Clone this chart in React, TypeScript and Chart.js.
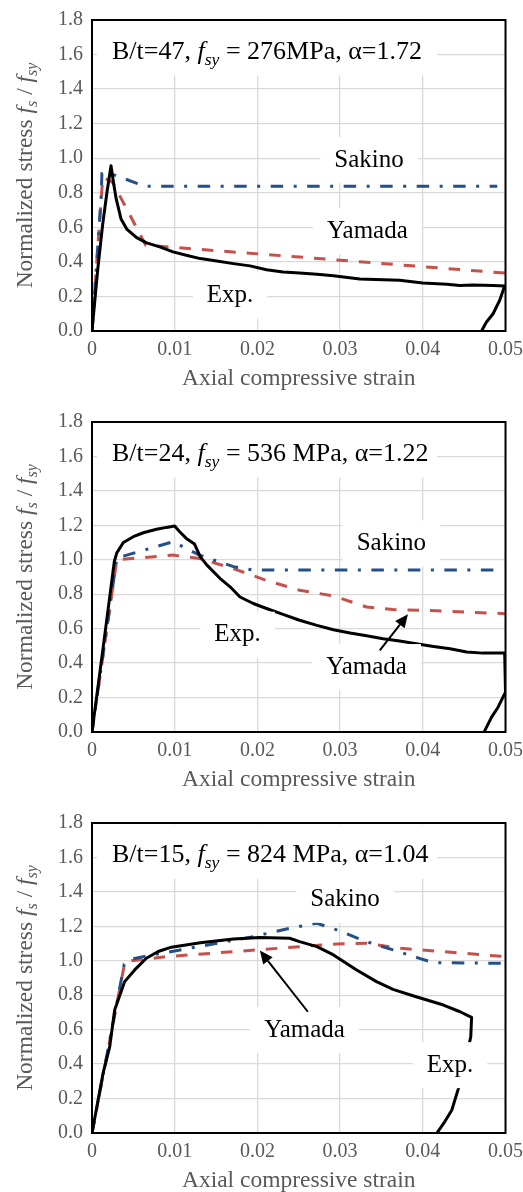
import React, { useEffect, useRef } from 'react';
import { Chart, registerables } from 'chart.js';
Chart.register(...registerables);

const SERIF = '"Liberation Serif", "Times New Roman", Times, serif';
const GRAY = '#595959';

// ---- axis ticks ----
const xTickValues = [0, 0.01, 0.02, 0.03, 0.04, 0.05];
const xTickLabels = ['0', '0.01', '0.02', '0.03', '0.04', '0.05'];
const yTickValues = [0, 0.2, 0.4, 0.6, 0.8, 1.0, 1.2, 1.4, 1.6, 1.8];
const yTickLabels = ['0.0', '0.2', '0.4', '0.6', '0.8', '1.0', '1.2', '1.4', '1.6', '1.8'];

// ---- panel 1: B/t=47 ----
const exp1Strain = [0, 0.0007, 0.0013, 0.0018, 0.0023, 0.0026, 0.0029, 0.0035, 0.0042, 0.0054, 0.0066, 0.0082, 0.0098, 0.0114, 0.0131, 0.0151, 0.0171, 0.0191, 0.0211, 0.0231, 0.0251, 0.0272, 0.0292, 0.0304, 0.0324, 0.0352, 0.0372, 0.04, 0.0429, 0.0445, 0.0461, 0.0485, 0.0499, 0.0493, 0.0485, 0.0477, 0.0471];
const exp1Stress = [0, 0.36, 0.62, 0.8, 0.956, 0.86, 0.77, 0.65, 0.59, 0.54, 0.51, 0.487, 0.458, 0.438, 0.419, 0.405, 0.39, 0.377, 0.355, 0.342, 0.336, 0.328, 0.32, 0.313, 0.301, 0.297, 0.294, 0.278, 0.27, 0.263, 0.266, 0.263, 0.261, 0.178, 0.1, 0.052, 0];
const sak1Strain = [0, 0.0011, 0.0012, 0.0023, 0.0064, 0.049];
const sak1Stress = [0, 0.77, 0.91, 0.91, 0.838, 0.838];
const yam1Strain = [0, 0.0013, 0.0025, 0.0065, 0.05];
const yam1Stress = [0, 0.89, 0.86, 0.497, 0.335];

// ---- panel 2: B/t=24 ----
const exp2Strain = [0, 0.0014, 0.0027, 0.003, 0.00379, 0.005, 0.0062, 0.0078, 0.009, 0.01, 0.0106, 0.0114, 0.0124, 0.0131, 0.0139, 0.0155, 0.0167, 0.0179, 0.0195, 0.0211, 0.0231, 0.0251, 0.0272, 0.0292, 0.0312, 0.0332, 0.0352, 0.0372, 0.0392, 0.0413, 0.0433, 0.0453, 0.0473, 0.0499, 0.05, 0.0491, 0.0483, 0.0475];
const exp2Stress = [0, 0.51, 0.99, 1.04, 1.1, 1.134, 1.157, 1.177, 1.188, 1.196, 1.163, 1.124, 1.091, 1.017, 0.969, 0.891, 0.843, 0.784, 0.746, 0.717, 0.683, 0.649, 0.619, 0.594, 0.575, 0.559, 0.542, 0.528, 0.513, 0.497, 0.483, 0.464, 0.458, 0.458, 0.231, 0.144, 0.085, 0.008];
const sak2Strain = [0, 0.003, 0.0098, 0.013, 0.0171, 0.0195, 0.049];
const sak2Stress = [0, 1.01, 1.105, 1.027, 0.96, 0.94, 0.94];
const yam2Strain = [0, 0.003, 0.0098, 0.013, 0.017, 0.0211, 0.0251, 0.0292, 0.0332, 0.0364, 0.04, 0.05];
const yam2Stress = [0, 1.0, 1.027, 1.008, 0.95, 0.88, 0.823, 0.79, 0.726, 0.711, 0.707, 0.687];

// ---- panel 3: B/t=15 ----
const exp3Strain = [0, 0.00133, 0.00214, 0.00274, 0.00395, 0.00516, 0.00657, 0.008, 0.0096, 0.0131, 0.0171, 0.0203, 0.0239, 0.0251, 0.0272, 0.0292, 0.032, 0.0344, 0.0364, 0.0388, 0.0405, 0.0425, 0.0445, 0.0459, 0.0458, 0.0451, 0.0443, 0.0435, 0.0425, 0.0417];
const exp3Stress = [0, 0.346, 0.5, 0.714, 0.879, 0.947, 1.015, 1.054, 1.079, 1.105, 1.127, 1.135, 1.131, 1.111, 1.082, 1.034, 0.946, 0.879, 0.834, 0.797, 0.772, 0.743, 0.704, 0.671, 0.559, 0.403, 0.258, 0.132, 0.054, 0];
const sak3Strain = [0, 0.0039, 0.0048, 0.0062, 0.0195, 0.0239, 0.0272, 0.0296, 0.0332, 0.0364, 0.0396, 0.0413, 0.0497];
const sak3Stress = [0, 0.98, 1.01, 1.024, 1.14, 1.189, 1.218, 1.179, 1.111, 1.063, 1.014, 0.989, 0.985];
const yam3Strain = [0, 0.00395, 0.0048, 0.009, 0.0199, 0.0296, 0.0332, 0.0372, 0.05];
const yam3Stress = [0, 0.986, 1.0, 1.024, 1.063, 1.098, 1.102, 1.073, 1.024];

type Seg = { t: string; it?: boolean; sub?: boolean };
type Label = { text: string; x: number; y: number };
type Panel = {
  offset: number;
  height: number;
  plotTop: number;
  plotBottom: number;
  title: Seg[];
  exp: [number[], number[]];
  sakino: [number[], number[]];
  yamada: [number[], number[]];
  labels: Label[];
  arrow?: [number, number, number, number];
};

const yTitle: Seg[] = [
  { t: 'Normalized stress ' },
  { t: 'f', it: true },
  { t: 's', it: true, sub: true },
  { t: ' / ' },
  { t: 'f', it: true },
  { t: 'sy', it: true, sub: true },
];
const xTitle = 'Axial compressive strain';

const panels: Panel[] = [
  {
    offset: 0, height: 402, plotTop: 20, plotBottom: 331,
    title: [{ t: 'B/t=47, ' }, { t: 'f', it: true }, { t: 'sy', it: true, sub: true }, { t: ' = 276MPa, α=1.72' }],
    exp: [exp1Strain, exp1Stress], sakino: [sak1Strain, sak1Stress], yamada: [yam1Strain, yam1Stress],
    labels: [
      { text: 'Sakino', x: 0.0335, y: 0.989 },
      { text: 'Yamada', x: 0.0333, y: 0.577 },
      { text: 'Exp.', x: 0.0167, y: 0.207 },
    ],
  },
  {
    offset: 402, height: 401, plotTop: 20, plotBottom: 330,
    title: [{ t: 'B/t=24, ' }, { t: 'f', it: true }, { t: 'sy', it: true, sub: true }, { t: ' = 536 MPa, α=1.22' }],
    exp: [exp2Strain, exp2Stress], sakino: [sak2Strain, sak2Stress], yamada: [yam2Strain, yam2Stress],
    labels: [
      { text: 'Sakino', x: 0.0362, y: 1.095 },
      { text: 'Yamada', x: 0.0332, y: 0.377 },
      { text: 'Exp.', x: 0.0176, y: 0.565 },
    ],
    arrow: [0.0348, 0.474, 0.0382, 0.683],
  },
  {
    offset: 803, height: 389, plotTop: 20, plotBottom: 330,
    title: [{ t: 'B/t=15, ' }, { t: 'f', it: true }, { t: 'sy', it: true, sub: true }, { t: ' = 824 MPa, α=1.04' }],
    exp: [exp3Strain, exp3Stress], sakino: [sak3Strain, sak3Stress], yamada: [yam3Strain, yam3Stress],
    labels: [
      { text: 'Sakino', x: 0.0306, y: 1.354 },
      { text: 'Yamada', x: 0.0257, y: 0.597 },
      { text: 'Exp.', x: 0.0433, y: 0.394 },
    ],
    arrow: [0.0261, 0.704, 0.0203, 1.059],
  },
];

function segFont(s: Seg, size: number) {
  const sz = s.sub ? size * 0.68 : size;
  return `${s.it ? 'italic ' : ''}${sz}px ${SERIF}`;
}
function richWidth(ctx: CanvasRenderingContext2D, segs: Seg[], size: number) {
  let w = 0;
  for (const s of segs) { ctx.font = segFont(s, size); w += ctx.measureText(s.t).width; }
  return w;
}
function drawRich(ctx: CanvasRenderingContext2D, segs: Seg[], x: number, y: number, size: number, color: string) {
  let cx = x;
  ctx.fillStyle = color;
  ctx.textAlign = 'left';
  ctx.textBaseline = 'alphabetic';
  for (const s of segs) {
    ctx.font = segFont(s, size);
    ctx.fillText(s.t, cx, s.sub ? y + size * 0.24 : y);
    cx += ctx.measureText(s.t).width;
  }
}

function zip(xs: number[], ys: number[]) {
  return xs.map((x, i) => ({ x, y: ys[i] }));
}

function overlay(p: Panel) {
  return {
    id: 'overlay',
    afterDraw(chart: any) {
      const ctx: CanvasRenderingContext2D = chart.ctx;
      const { left, right, top, bottom } = chart.chartArea;
      const xs = chart.scales.x;
      const ys = chart.scales.y;
      ctx.save();
      // title box
      ctx.fillStyle = '#fff';
      ctx.fillRect(left + 5, top + 1.5, 340, 54);
      drawRich(ctx, p.title, left + 20, top + 38.5, 26, '#000');
      // labels
      for (const lab of p.labels) {
        ctx.font = `25px ${SERIF}`;
        const w = ctx.measureText(lab.text).width;
        const cx = xs.getPixelForValue(lab.x);
        const cy = ys.getPixelForValue(lab.y);
        ctx.fillStyle = '#fff';
        ctx.fillRect(cx - w / 2 - 14, cy - 23, w + 28, 46);
        ctx.fillStyle = '#000';
        ctx.textAlign = 'center';
        ctx.textBaseline = 'middle';
        ctx.fillText(lab.text, cx, cy);
      }
      // arrow
      if (p.arrow) {
        const [ax1, ay1, ax2, ay2] = p.arrow;
        const x1 = xs.getPixelForValue(ax1), y1 = ys.getPixelForValue(ay1);
        const x2 = xs.getPixelForValue(ax2), y2 = ys.getPixelForValue(ay2);
        const ang = Math.atan2(y2 - y1, x2 - x1);
        const hl = 13, hw = 6;
        const bx = x2 - hl * Math.cos(ang), by = y2 - hl * Math.sin(ang);
        ctx.strokeStyle = '#000';
        ctx.lineWidth = 2;
        ctx.beginPath();
        ctx.moveTo(x1, y1);
        ctx.lineTo(bx, by);
        ctx.stroke();
        ctx.fillStyle = '#000';
        ctx.beginPath();
        ctx.moveTo(x2, y2);
        ctx.lineTo(bx + hw * Math.sin(ang), by - hw * Math.cos(ang));
        ctx.lineTo(bx - hw * Math.sin(ang), by + hw * Math.cos(ang));
        ctx.closePath();
        ctx.fill();
      }
      // frame
      ctx.strokeStyle = '#000';
      ctx.lineWidth = 2;
      ctx.strokeRect(left, top, right - left, bottom - top);
      // x title
      ctx.font = `23.5px ${SERIF}`;
      ctx.fillStyle = GRAY;
      ctx.textAlign = 'center';
      ctx.textBaseline = 'alphabetic';
      ctx.fillText(xTitle, (left + right) / 2, bottom + 54);
      // y title
      const tw = richWidth(ctx, yTitle, 23.5);
      ctx.translate(31.5, (top + bottom) / 2);
      ctx.rotate(-Math.PI / 2);
      drawRich(ctx, yTitle, -tw / 2, 0, 23.5, GRAY);
      ctx.restore();
    },
  };
}

function PanelChart({ p }: { p: Panel }) {
  const ref = useRef<HTMLCanvasElement>(null);
  useEffect(() => {
    const canvas = ref.current!;
    const chart = new Chart(canvas, {
      type: 'line',
      data: {
        datasets: [
          {
            label: 'Exp.', data: zip(p.exp[0], p.exp[1]),
            borderColor: '#000', borderWidth: 3, pointRadius: 0, tension: 0,
            borderJoinStyle: 'round', borderCapStyle: 'round',
          },
          {
            label: 'Sakino', data: zip(p.sakino[0], p.sakino[1]),
            borderColor: '#234f8a', borderWidth: 3, pointRadius: 0, tension: 0,
            borderDash: [12.5, 10.5, 3, 10.5], borderCapStyle: 'butt',
          },
          {
            label: 'Yamada', data: zip(p.yamada[0], p.yamada[1]),
            borderColor: '#c5504c', borderWidth: 3, pointRadius: 0, tension: 0,
            borderDash: [11.5, 11], borderCapStyle: 'butt',
          },
        ],
      } as any,
      options: {
        animation: false,
        responsive: false,
        devicePixelRatio: 1,
        layout: { padding: { top: p.plotTop, right: 17.5, left: 0, bottom: 0 } },
        plugins: { legend: { display: false }, tooltip: { enabled: false } },
        scales: {
          x: {
            type: 'linear', min: 0, max: 0.05, position: 'bottom',
            afterBuildTicks: (s: any) => { s.ticks = xTickValues.map((v) => ({ value: v })); },
            afterFit: (s: any) => { s.height = p.height - p.plotBottom; s.paddingLeft = 0; s.paddingRight = 0; },
            grid: { color: '#d9d9d9', lineWidth: 1.3, drawTicks: false },
            border: { display: false },
            ticks: {
              padding: 7, color: GRAY, font: { family: SERIF, size: 20 }, maxRotation: 0, autoSkip: false,
              callback: (_v: any, i: number) => xTickLabels[i],
            },
          },
          y: {
            type: 'linear', min: 0, max: 1.8,
            afterBuildTicks: (s: any) => { s.ticks = yTickValues.map((v) => ({ value: v })); },
            afterFit: (s: any) => { s.width = 92; s.paddingTop = 0; s.paddingBottom = 0; },
            grid: { color: '#d9d9d9', lineWidth: 1.3, drawTicks: false },
            border: { display: false },
            ticks: {
              padding: 9, color: GRAY, font: { family: SERIF, size: 20 }, autoSkip: false,
              callback: (_v: any, i: number) => yTickLabels[i],
            },
          },
        },
      } as any,
      plugins: [overlay(p)],
    });
    return () => chart.destroy();
  }, [p]);
  return (
    <div style={{ position: 'absolute', left: 0, top: p.offset, width: 523, height: p.height }}>
      <canvas ref={ref} width={523} height={p.height} style={{ display: 'block', width: 523, height: p.height }} />
    </div>
  );
}

export default function App() {
  return (
    <div style={{ position: 'absolute', left: 0, top: 0, width: 523, height: 1192, background: '#fff' }}>
      {panels.map((p, i) => (
        <PanelChart key={i} p={p} />
      ))}
    </div>
  );
}
